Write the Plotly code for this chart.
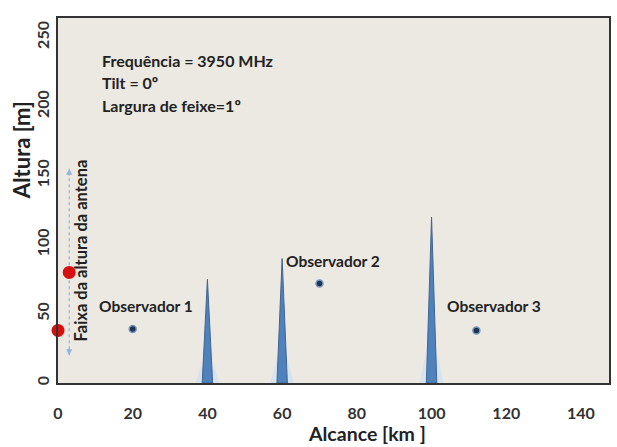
import plotly.graph_objects as go

# ---- data ----
antenna_x = [0, 3]
antenna_y = [38, 80]

observer_x = [20, 70, 112]
observer_y = [39, 72, 38]
observer_names = ["Observador 1", "Observador 2", "Observador 3"]
observer_label_x = [10.4, 60.5, 103.7]
observer_label_y = [56, 88, 56]

obstacle_x = [40, 60, 100]
obstacle_h = [75, 90, 120]

x_ticks = [0, 20, 40, 60, 80, 100, 120, 140]
y_ticks = [0, 50, 100, 150, 200, 250]

info_lines = ["Frequência = 3950 MHz", "Tilt = 0º", "Largura de feixe=1º"]
info_y = [233, 217, 201]

band_x = 3
band_low, band_high = 20, 155

FONT = "Lato"
W, H = 617, 447
L, R, T, B = 58, 6, 18, 64
PW, PH = W - L - R, H - T - B

fig = go.Figure()

# obstacles (thin spikes)
for xc, h in zip(obstacle_x, obstacle_h):
    fig.add_trace(go.Scatter(
        x=[xc - 3.2, xc, xc + 3.2, xc - 3.2], y=[0, h * 0.35, 0, 0],
        fill="toself", fillcolor="rgba(214,226,240,0.9)", mode="none",
        hoverinfo="skip", showlegend=False))
    fig.add_trace(go.Scatter(
        x=[xc - 1.4, xc, xc + 1.4, xc - 1.4], y=[0, h, 0, 0],
        fill="toself", fillcolor="#4F81BD", mode="lines",
        line=dict(color="#41658f", width=1),
        hoverinfo="skip", showlegend=False))

# observers
fig.add_trace(go.Scatter(
    x=observer_x, y=observer_y, mode="markers",
    marker=dict(size=7, color="#1f3450", line=dict(color="#7896c0", width=1.5)),
    showlegend=False))

# antenna heights
fig.add_trace(go.Scatter(
    x=antenna_x, y=antenna_y, mode="markers",
    marker=dict(size=13, color="#d80f0f"), cliponaxis=False, showlegend=False))

# dotted band line
fig.add_shape(type="line", x0=band_x, x1=band_x, y0=band_low, y1=band_high,
              xref="x", yref="y", layer="below",
              line=dict(color="#8fb4dc", width=1.2, dash="dot"))
for y_tip, y_tail in [(band_high, band_high - 6), (band_low, band_low + 6)]:
    fig.add_annotation(x=band_x, y=y_tip, ax=band_x, ay=y_tail, axref="x", ayref="y",
                       xref="x", yref="y", text="", showarrow=True, arrowhead=2,
                       arrowsize=1, arrowwidth=1.2, arrowcolor="#8fb4dc")

fig.add_annotation(x=6.2, y=96, xref="x", yref="y",
                   text="<b>Faixa da altura da antena</b>", textangle=-90, showarrow=False,
                   font=dict(family=FONT, size=16.5, color="#222222"))

for name, lx, ly in zip(observer_names, observer_label_x, observer_label_y):
    fig.add_annotation(x=lx, y=ly, xref="x", yref="y", text="<b>" + name + "</b>",
                       showarrow=False, xanchor="left", yanchor="middle",
                       font=dict(family=FONT, size=15.5, color="#222222"))

for line, ly in zip(info_lines, info_y):
    fig.add_annotation(x=11.2, y=ly, xref="x", yref="y", text="<b>" + line + "</b>",
                       showarrow=False, xanchor="left", yanchor="middle",
                       font=dict(family=FONT, size=16, color="#222222"))

# axis titles (placed as in the reference)
fig.add_annotation(x=(368 - L) / PW, y=-(433 - (H - B)) / PH, xref="paper", yref="paper",
                   text="<b>Alcance [km ]</b>", showarrow=False,
                   xanchor="center", yanchor="middle",
                   font=dict(family=FONT, size=19.5, color="#222222"))
fig.add_annotation(x=-(L - 22) / PW, y=(H - B - 150) / PH, xref="paper", yref="paper",
                   text="<b>Altura [m]</b>", showarrow=False, textangle=-90,
                   xanchor="center", yanchor="middle",
                   font=dict(family=FONT, size=22, color="#222222"))

fig.update_layout(
    width=W, height=H,
    margin=dict(l=L, r=R, t=T, b=B),
    paper_bgcolor="white", plot_bgcolor="#ECE9E3",
    showlegend=False,
    xaxis=dict(range=[0, 147.5], tickvals=x_ticks, showgrid=False, zeroline=False,
               showline=True, mirror=True, linecolor="#333333", linewidth=2,
               ticks="", ticklabelstandoff=15,
               tickfont=dict(family=FONT, size=16, color="#333333", weight="bold")),
    yaxis=dict(range=[0, 264], tickvals=y_ticks, showgrid=False, zeroline=False,
               showline=True, mirror=True, linecolor="#333333", linewidth=2,
               ticks="", tickangle=-90, ticklabelstandoff=1,
               tickfont=dict(family=FONT, size=16, color="#333333", weight="bold")),
)

fig.write_html("out.html")
